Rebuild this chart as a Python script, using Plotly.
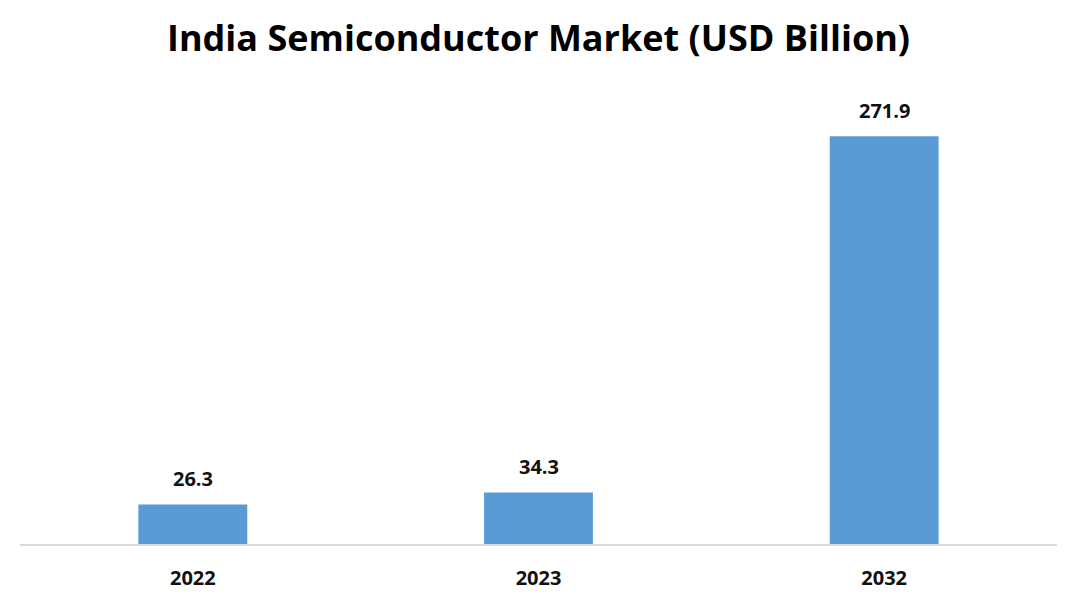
import plotly.graph_objects as go

years = ["2022", "2023", "2032"]
values = [26.3, 34.3, 271.9]
value_labels = ["26.3", "34.3", "271.9"]

fig = go.Figure()
fig.add_trace(go.Bar(
    x=years, y=values,
    marker=dict(color="#5b9bd5", line=dict(width=0)),
    hoverinfo="skip",
))

# category axis: annotate by category index (numeric-looking names would be read as indices)
for i, (y, t) in enumerate(zip(values, value_labels)):
    fig.add_annotation(x=i, y=y, text=f"<b>{t}</b>", showarrow=False,
                       yshift=26, font=dict(family="Open Sans", size=20, color="#111"))

fig.update_layout(
    width=1077, height=600,
    margin=dict(l=11.5, r=27.5, t=92, b=64),
    paper_bgcolor="white", plot_bgcolor="white",
    bargap=0.685,
    showlegend=False,
    title=dict(text="<b>India Semiconductor Market (USD Billion)</b>",
               x=0.4926, xanchor="center", y=0.95, yanchor="middle",
               font=dict(family="Open Sans", size=36, color="#000")),
    xaxis=dict(type="category", range=[-0.5, len(years) - 0.5],
               showline=True, linecolor="#d9d9d9", linewidth=2, showgrid=False,
               ticks="outside", ticklen=15, tickcolor="rgba(0,0,0,0)",
               tickfont=dict(family="Open Sans", size=20, color="#111", weight="bold")),
    yaxis=dict(range=[0, 296], visible=False, showgrid=False),
)

fig.write_html("out.html")
